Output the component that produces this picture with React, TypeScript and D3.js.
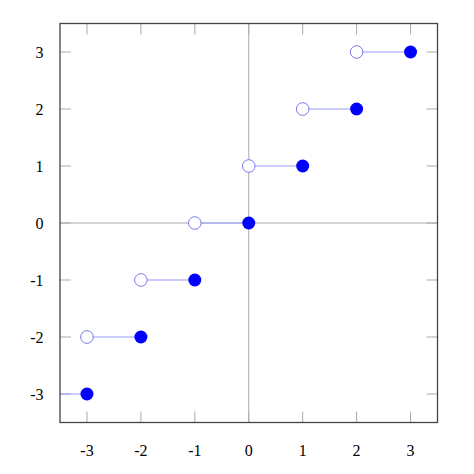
import React from "react";
import * as d3 from "d3";

const stepValues = [-3, -2, -1, 0, 1, 2, 3];
const xTicks = [-3, -2, -1, 0, 1, 2, 3];
const yTicks = [-3, -2, -1, 0, 1, 2, 3];
const xDomain: [number, number] = [-3.5, 3.5];
const yDomain: [number, number] = [-3.5, 3.5];

const W = 474;
const H = 474;
const left = 60;
const right = 437.5;
const top = 23.5;
const bottom = 422.5;

export default function App() {
  const x = d3.scaleLinear().domain(xDomain).range([left, right]);
  const y = d3.scaleLinear().domain(yDomain).range([bottom, top]);
  const tickLen = 11;
  const tickColor = "#aaaaaa";
  const font = "'Liberation Serif', 'Times New Roman', serif";
  const line = d3.line<[number, number]>().x((d) => x(d[0])).y((d) => y(d[1]));

  return (
    <svg width={W} height={H} style={{ position: "absolute", left: 0, top: 0 }}>
      <defs>
        <clipPath id="plot">
          <rect x={left} y={top} width={right - left} height={bottom - top} />
        </clipPath>
      </defs>
      <rect width={W} height={H} fill="white" />
      {/* zero lines */}
      <line x1={x(0)} x2={x(0)} y1={top} y2={bottom} stroke={tickColor} strokeWidth={1} />
      <line x1={left} x2={right} y1={y(0)} y2={y(0)} stroke={tickColor} strokeWidth={1} />
      {/* ticks */}
      {xTicks.map((t) => (
        <g key={"xt" + t}>
          <line x1={x(t)} x2={x(t)} y1={bottom} y2={bottom - tickLen} stroke={tickColor} strokeWidth={1} />
          <line x1={x(t)} x2={x(t)} y1={top} y2={top + tickLen} stroke={tickColor} strokeWidth={1} />
          <text x={x(t)} y={456} textAnchor="middle" fontFamily={font} fontSize={16} fill="#000">
            {t}
          </text>
        </g>
      ))}
      {yTicks.map((t) => (
        <g key={"yt" + t}>
          <line x1={left} x2={left + tickLen} y1={y(t)} y2={y(t)} stroke={tickColor} strokeWidth={1} />
          <line x1={right} x2={right - tickLen} y1={y(t)} y2={y(t)} stroke={tickColor} strokeWidth={1} />
          <text x={43.5} y={y(t) + 6} textAnchor="end" fontFamily={font} fontSize={16} fill="#000">
            {t}
          </text>
        </g>
      ))}
      {/* steps */}
      <g clipPath="url(#plot)">
        {stepValues.map((n) => (
          <path
            key={"s" + n}
            d={line([
              [n - 1, n],
              [n, n],
            ]) || ""}
            stroke="#9999ff"
            strokeWidth={1.2}
            fill="none"
          />
        ))}
        {stepValues.map((n) => (
          <circle key={"o" + n} cx={x(n - 1)} cy={y(n)} r={6.3} fill="white" stroke="#7777ee" strokeWidth={1} />
        ))}
        {stepValues.map((n) => (
          <circle key={"c" + n} cx={x(n)} cy={y(n)} r={6.5} fill="#0000ff" stroke="none" />
        ))}
      </g>
      {/* frame */}
      <rect x={left} y={top} width={right - left} height={bottom - top} fill="none" stroke="#444" strokeWidth={1.3} />
    </svg>
  );
}
